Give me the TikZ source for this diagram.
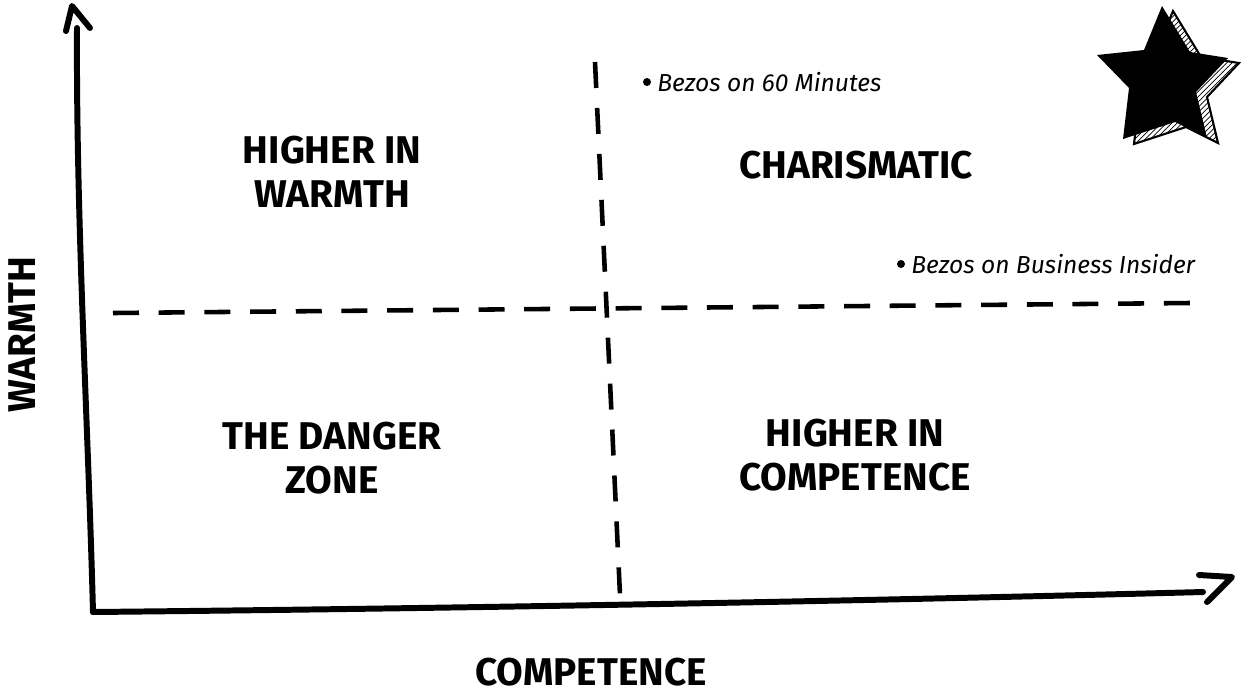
\documentclass[tikz,border=0pt]{standalone}
\usepackage{fontspec}
\setmainfont{Fira Sans}
\usetikzlibrary{patterns}
\begin{document}
\begin{tikzpicture}[x=0.02cm,y=-0.02cm,
  axis/.style={line width=3.4pt,line cap=round,line join=round},
  divider/.style={line width=2.6pt,dash pattern=on 0.52cm off 0.40cm},
  quadrant/.style={font=\fontsize{22}{25}\selectfont\bfseries,align=center},
  note/.style={font=\fontsize{14}{16}\selectfont\itshape,anchor=west,inner sep=0pt}]
  \useasboundingbox (0,0) rectangle (1247,694);
  % axes
  \coordinate (origin) at (93,612);
  \coordinate (ytop) at (77,28);
  \coordinate (ytip) at (72,6);
  \coordinate (xend) at (1203,592);
  \coordinate (xtip) at (1232,577);
  \draw[axis] (origin) .. controls (88,420) and (76,220) .. (ytop);
  \draw[axis] ([shift={(-6,25)}]ytip) -- (ytip) -- ([shift={(18,22)}]ytip);
  \draw[axis] (origin) .. controls (500,608) and (900,600) .. (xend);
  \draw[axis] ([shift={(-33,-2)}]xtip) -- (xtip) -- ([shift={(-25,25)}]xtip);
  % quadrant dividers
  \coordinate (vtop) at (595,62);
  \coordinate (vbot) at (620,595);
  \coordinate (hleft) at (113,313);
  \coordinate (hright) at (1190,303);
  \draw[divider] (vtop) -- (vbot);
  \draw[divider,dash pattern=on 0.52cm off 0.394cm] (hleft) -- (hright);
  % star
  \begin{scope}[shift={(11,5)}]
    \draw[line width=1.2pt,pattern=north east lines] (1162,6) -- (1190,52) -- (1228,58)
      -- (1196,92) -- (1207,138) -- (1175,122) -- (1123,139) -- (1129,88) -- (1097,55)
      -- (1144,50) -- cycle;
  \end{scope}
  \fill[line join=round] (1162,6) -- (1190,52) -- (1228,58) -- (1196,92) -- (1207,138)
    -- (1175,122) -- (1123,139) -- (1129,88) -- (1097,55) -- (1144,50) -- cycle;
  % labels
  \node[quadrant] (warm) at (332,172) {HIGHER IN\\WARMTH};
  \node[quadrant] (charisma) at (856,165) {CHARISMATIC};
  \node[quadrant] (danger) at (332,458) {THE DANGER\\ZONE};
  \node[quadrant] (compet) at (855,455) {HIGHER IN\\COMPETENCE};
  \node[quadrant,inner sep=1pt] (xlabel) at (591,672) {COMPETENCE};
  \node[quadrant,rotate=90] (ylabel) at (22,335) {WARMTH};
  % data points
  \fill (647,82) circle (4);
  \node[note] (sixty) at (657,82) {Bezos on 60 Minutes};
  \fill (901,264) circle (4);
  \node[note] (insider) at (911,264) {Bezos on Business Insider};
\end{tikzpicture}
\end{document}
